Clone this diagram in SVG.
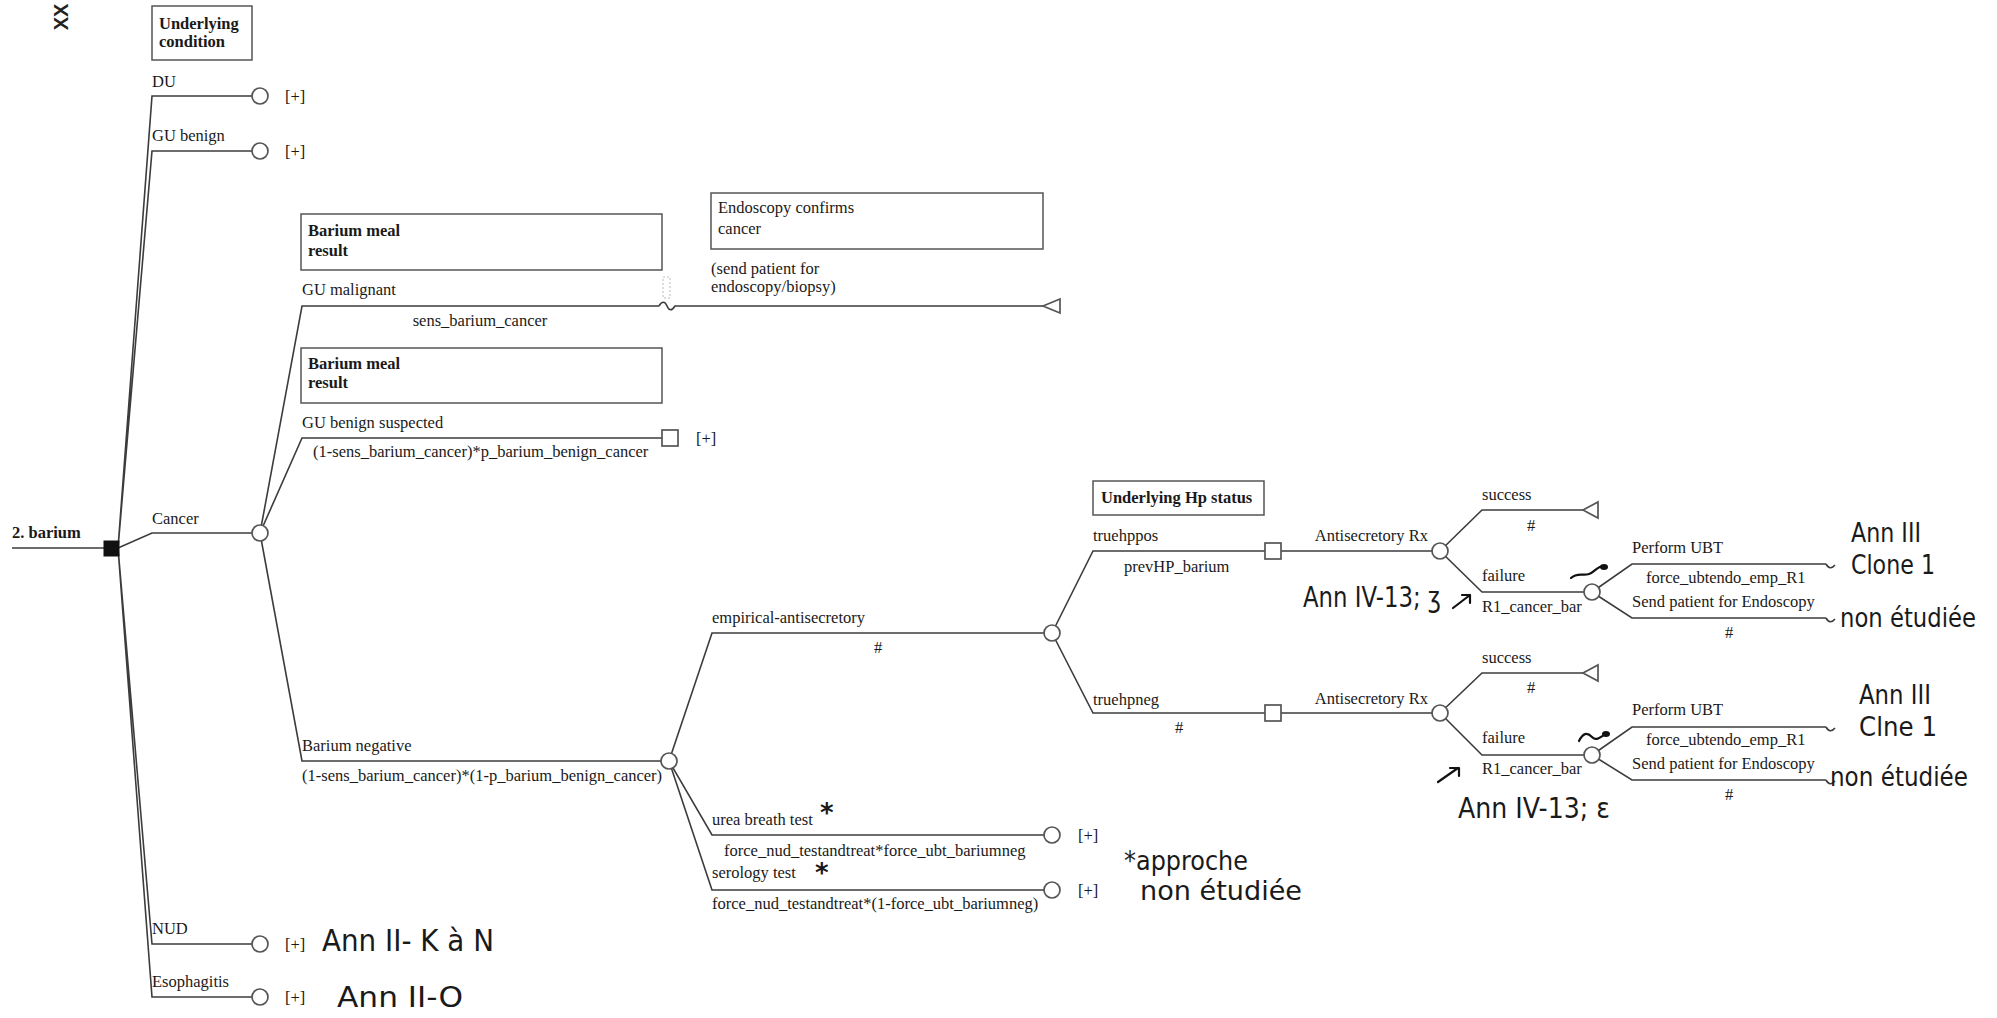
<svg xmlns="http://www.w3.org/2000/svg" width="1997" height="1018" viewBox="0 0 1997 1018">
<style>
.t{font-family:"Liberation Serif","Times New Roman",serif;font-size:16.5px;fill:#1a1a1a}
.b{font-weight:bold}
.m{text-anchor:middle}
.e{text-anchor:end}
.ln{stroke:#3c3c3c;stroke-width:1.6;fill:none}
.ch{fill:#fff;stroke:#555;stroke-width:1.7}
.box{fill:#fff;stroke:#555;stroke-width:1.5}
.hw{font-family:"DejaVu Sans","Liberation Sans",sans-serif;fill:#1a1a1a}
.hs{stroke:#111;stroke-width:2.2;fill:none;stroke-linecap:round;stroke-linejoin:round}
</style>
<rect width="1997" height="1018" fill="#fff"/>
<text font-family="Liberation Sans, sans-serif" font-size="20" font-weight="bold" text-anchor="middle" fill="#222" transform="translate(68,17) rotate(-90)">XX</text>

<g id="connectors">
<path class="ln" d="M12 548H104"/>
<path class="ln" d="M118 548L152 96H252M118 548L152 151H252M118 548L152 533H252M118 548L152 944H252M118 548L152 997H252"/>
<path class="ln" d="M260 533L302 306H659M260 533L302 438H662M260 533L302 761H661"/>
<path class="ln" d="M659 306C662 301 665 301 667 306C669 311 672 311 675 306H1043"/>
<path class="ln" d="M669 761L712 633H1044M669 761L712 835H1044M669 761L712 890H1044"/>
<path class="ln" d="M1052 633L1093 551H1265M1281 551H1432M1052 633L1093 713H1265M1281 713H1432"/>
<path class="ln" d="M1440 551L1482 510H1583M1440 551L1482 592H1584M1592 592L1632 564H1826M1592 592L1632 618H1826"/>
<path class="ln" d="M1440 713L1482 673H1583M1440 713L1482 755H1584M1592 755L1632 727H1826M1592 755L1632 780H1826"/>
<path class="ln" d="M1826 564q4 7 9 1M1826 618q4 7 9 1M1826 727q4 7 9 1M1826 780q4 7 9 1"/>
<rect x="663" y="277" width="7" height="21" fill="none" stroke="#bbb" stroke-width="1" stroke-dasharray="2 2"/>
</g>

<g id="root">
<text class="t b" x="12" y="538">2. barium</text>
<rect x="104" y="541" width="15" height="15" fill="#111" stroke="#111"/>
</g>
<g id="box-underlying-condition">
<rect class="box" x="152" y="6" width="100" height="54"/>
<text class="t b" x="159" y="29">Underlying</text>
<text class="t b" x="159" y="47">condition</text>
</g>
<g id="node-du">
<text class="t" x="152" y="87">DU</text>
<circle class="ch" cx="260" cy="96" r="8"/>
<text class="t" x="285" y="102">[+]</text>
</g>
<g id="node-gu-benign">
<text class="t" x="152" y="141">GU benign</text>
<circle class="ch" cx="260" cy="151" r="8"/>
<text class="t" x="285" y="157">[+]</text>
</g>
<g id="node-cancer">
<text class="t" x="152" y="524">Cancer</text>
<circle class="ch" cx="260" cy="533" r="8"/>
</g>
<g id="node-nud">
<text class="t" x="152" y="934">NUD</text>
<circle class="ch" cx="260" cy="944" r="8"/>
<text class="t" x="285" y="950">[+]</text>
</g>
<g id="node-esophagitis">
<text class="t" x="152" y="987">Esophagitis</text>
<circle class="ch" cx="260" cy="997" r="8"/>
<text class="t" x="285" y="1003">[+]</text>
</g>

<g id="box-barium-meal-1">
<rect class="box" x="301" y="214" width="361" height="56"/>
<text class="t b" x="308" y="236">Barium meal</text>
<text class="t b" x="308" y="256">result</text>
</g>
<g id="node-gu-malignant">
<text class="t" x="302" y="295">GU malignant</text>
<text class="t m" x="480" y="326">sens_barium_cancer</text>
</g>
<g id="box-endoscopy">
<rect class="box" x="711" y="193" width="332" height="56"/>
<text class="t" x="718" y="213">Endoscopy confirms</text>
<text class="t" x="718" y="234">cancer</text>
</g>
<g id="terminal-endoscopy">
<text class="t" x="711" y="274">(send patient for</text>
<text class="t" x="711" y="292">endoscopy/biopsy)</text>
<polygon class="ch" points="1043,306 1060,299 1060,313"/>
</g>
<g id="box-barium-meal-2">
<rect class="box" x="301" y="348" width="361" height="55"/>
<text class="t b" x="308" y="369">Barium meal</text>
<text class="t b" x="308" y="388">result</text>
</g>
<g id="node-gu-benign-suspected">
<text class="t" x="302" y="428">GU benign suspected</text>
<text class="t" x="313" y="457">(1-sens_barium_cancer)*p_barium_benign_cancer</text>
<rect class="ch" x="662" y="430" width="16" height="16"/>
<text class="t" x="696" y="444">[+]</text>
</g>
<g id="node-barium-negative">
<text class="t" x="302" y="751">Barium negative</text>
<text class="t" x="302" y="781">(1-sens_barium_cancer)*(1-p_barium_benign_cancer)</text>
<circle class="ch" cx="669" cy="761" r="8"/>
</g>

<g id="node-empirical">
<text class="t" x="712" y="623">empirical-antisecretory</text>
<text class="t m" x="878" y="653">#</text>
<circle class="ch" cx="1052" cy="633" r="8"/>
</g>
<g id="node-urea">
<text class="t" x="712" y="825">urea breath test</text>
<text class="t" x="724" y="856">force_nud_testandtreat*force_ubt_bariumneg</text>
<circle class="ch" cx="1052" cy="835" r="8"/>
<text class="t" x="1078" y="841">[+]</text>
</g>
<g id="node-serology">
<text class="t" x="712" y="878">serology test</text>
<text class="t" x="712" y="909">force_nud_testandtreat*(1-force_ubt_bariumneg)</text>
<circle class="ch" cx="1052" cy="890" r="8"/>
<text class="t" x="1078" y="896">[+]</text>
</g>

<g id="box-hp-status">
<rect class="box" x="1093" y="481" width="171" height="34"/>
<text class="t b" x="1101" y="503">Underlying Hp status</text>
</g>
<g id="node-truehppos">
<text class="t" x="1093" y="541">truehppos</text>
<text class="t" x="1124" y="572">prevHP_barium</text>
<rect class="ch" x="1265" y="543" width="16" height="16"/>
</g>
<g id="node-antisec-1">
<text class="t e" x="1428" y="541">Antisecretory Rx</text>
<circle class="ch" cx="1440" cy="551" r="8"/>
</g>
<g id="node-truehpneg">
<text class="t" x="1093" y="705">truehpneg</text>
<text class="t m" x="1179" y="733">#</text>
<rect class="ch" x="1265" y="705" width="16" height="16"/>
</g>
<g id="node-antisec-2">
<text class="t e" x="1428" y="704">Antisecretory Rx</text>
<circle class="ch" cx="1440" cy="713" r="8"/>
</g>

<g id="terminal-success-1">
<text class="t" x="1482" y="500">success</text>
<text class="t m" x="1531" y="531">#</text>
<polygon class="ch" points="1583,510 1598,502 1598,518"/>
</g>
<g id="node-failure-1">
<text class="t" x="1482" y="581">failure</text>
<text class="t" x="1482" y="612">R1_cancer_bar</text>
<circle class="ch" cx="1592" cy="592" r="8"/>
</g>
<g id="leaf-ubt-1">
<text class="t" x="1632" y="553">Perform UBT</text>
<text class="t" x="1646" y="583">force_ubtendo_emp_R1</text>
</g>
<g id="leaf-endo-1">
<text class="t" x="1632" y="607">Send patient for Endoscopy</text>
<text class="t m" x="1729" y="638">#</text>
</g>
<g id="terminal-success-2">
<text class="t" x="1482" y="663">success</text>
<text class="t m" x="1531" y="693">#</text>
<polygon class="ch" points="1583,673 1598,665 1598,681"/>
</g>
<g id="node-failure-2">
<text class="t" x="1482" y="743">failure</text>
<text class="t" x="1482" y="774">R1_cancer_bar</text>
<circle class="ch" cx="1592" cy="755" r="8"/>
</g>
<g id="leaf-ubt-2">
<text class="t" x="1632" y="715">Perform UBT</text>
<text class="t" x="1646" y="745">force_ubtendo_emp_R1</text>
</g>
<g id="leaf-endo-2">
<text class="t" x="1632" y="769">Send patient for Endoscopy</text>
<text class="t m" x="1729" y="800">#</text>
</g>

<g id="handwriting">
<text class="hw" x="322" y="951" font-size="30" textLength="172" lengthAdjust="spacingAndGlyphs">Ann II- K à N</text>
<text class="hw" x="337" y="1007" font-size="29" textLength="126" lengthAdjust="spacingAndGlyphs">Ann II-O</text>
<text class="hw" x="1303" y="607" font-size="28" textLength="138" lengthAdjust="spacingAndGlyphs">Ann IV-13; ʒ</text>
<path class="hs" d="M1453 608L1470 595M1462 595H1470V603"/>
<text class="hw" x="1851" y="542" font-size="26" textLength="70" lengthAdjust="spacingAndGlyphs">Ann III</text>
<text class="hw" x="1851" y="574" font-size="26" textLength="84" lengthAdjust="spacingAndGlyphs">Clone 1</text>
<text class="hw" x="1840" y="627" font-size="26" textLength="136" lengthAdjust="spacingAndGlyphs">non étudiée</text>
<text class="hw" x="1859" y="704" font-size="26" textLength="72" lengthAdjust="spacingAndGlyphs">Ann III</text>
<text class="hw" x="1859" y="736" font-size="26" textLength="78" lengthAdjust="spacingAndGlyphs">Clne 1</text>
<text class="hw" x="1830" y="786" font-size="26" textLength="138" lengthAdjust="spacingAndGlyphs">non étudiée</text>
<text class="hw" x="1458" y="818" font-size="28" textLength="152" lengthAdjust="spacingAndGlyphs">Ann IV-13; ε</text>
<path class="hs" d="M1438 782L1458 768M1450 768H1459V776"/>
<text class="hw" x="1124" y="870" font-size="27" textLength="124" lengthAdjust="spacingAndGlyphs">*approche</text>
<text class="hw" x="1140" y="900" font-size="27" textLength="162" lengthAdjust="spacingAndGlyphs">non étudiée</text>
<text class="hw" x="820" y="822" font-size="26" font-weight="bold">*</text>
<text class="hw" x="815" y="882" font-size="26" font-weight="bold">*</text>
<path class="hs" d="M1571 578C1577 572 1583 576 1589 574C1595 572 1597 566 1604 566"/>
<ellipse cx="1604" cy="567" rx="4" ry="3" fill="#111"/>
<path class="hs" d="M1579 741C1583 733 1587 732 1592 737C1597 742 1601 736 1606 734"/>
<ellipse cx="1606" cy="734" rx="4" ry="3" fill="#111"/>
</g>
</svg>
